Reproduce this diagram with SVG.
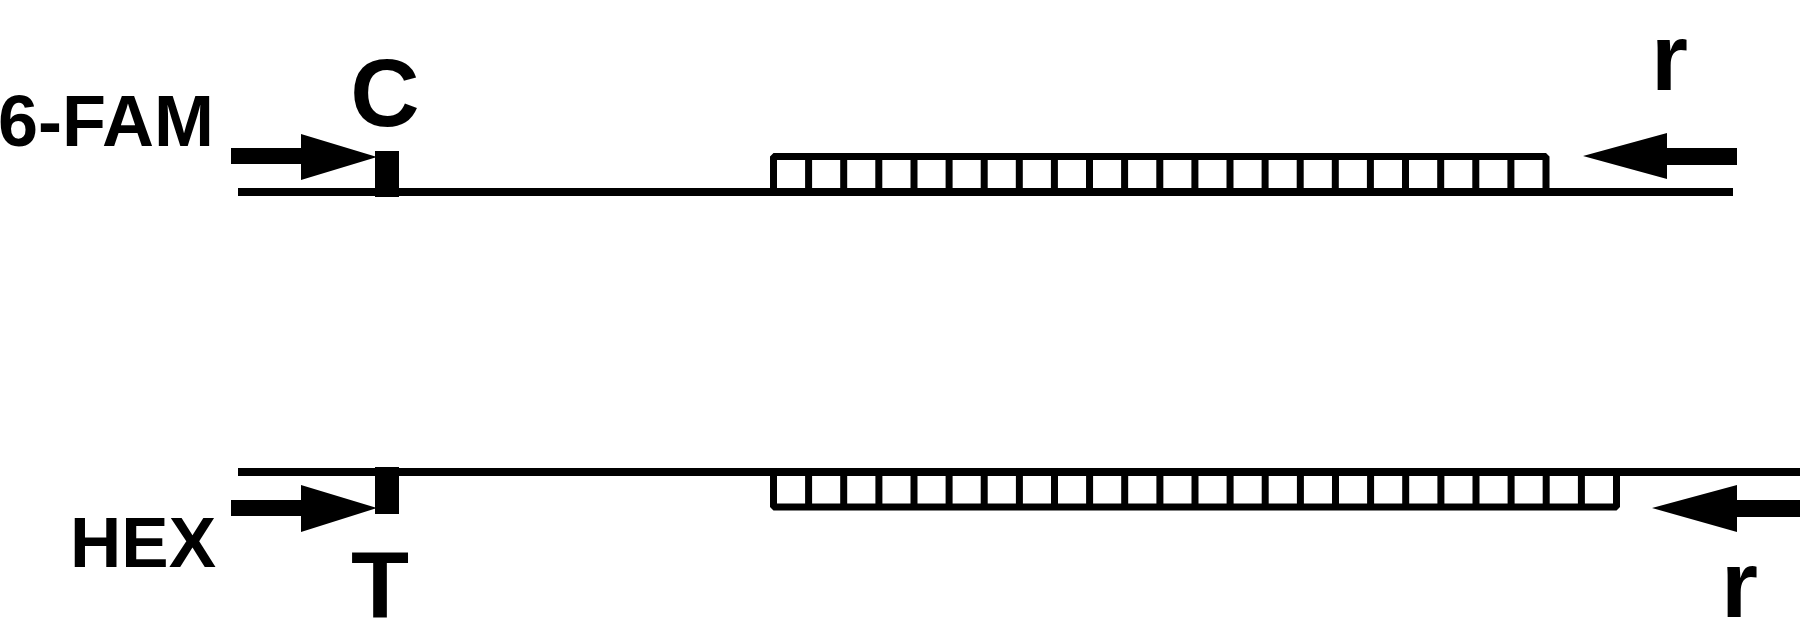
<svg xmlns="http://www.w3.org/2000/svg" width="1800" height="639" viewBox="0 0 1800 639">
<style>
.lbl{font-family:"Liberation Sans",Arial,sans-serif;font-weight:bold;fill:#000}
.strand{stroke:#000;stroke-width:8;fill:none}
.lad{stroke:#000;stroke-width:7;fill:none;stroke-linejoin:bevel}
.arrow{fill:#000}
</style>
<rect width="1800" height="639" fill="#fff"/>
<g id="top-duplex">
  <line class="strand" x1="238" y1="192" x2="1733" y2="192"/>
  <path class="lad" d="M773.5,192V156.5H1546V192"/>
  <path class="lad" d="M808.6,156.5V192M843.7,156.5V192M878.8,156.5V192M914,156.5V192M949.1,156.5V192M984.2,156.5V192M1019.3,156.5V192M1054.4,156.5V192M1089.5,156.5V192M1124.6,156.5V192M1159.8,156.5V192M1194.9,156.5V192M1230,156.5V192M1265.1,156.5V192M1300.2,156.5V192M1335.3,156.5V192M1370.4,156.5V192M1405.5,156.5V192M1440.7,156.5V192M1475.8,156.5V192M1510.9,156.5V192"/>
  <rect x="375" y="151" width="24" height="46" fill="#000"/>
</g>
<g id="bottom-duplex">
  <line class="strand" x1="238" y1="472" x2="1800" y2="472"/>
  <path class="lad" d="M773.5,472V507H1616.5V472"/>
  <path class="lad" d="M808.6,472V507M843.7,472V507M878.9,472V507M914,472V507M949.1,472V507M984.2,472V507M1019.4,472V507M1054.5,472V507M1089.6,472V507M1124.7,472V507M1159.9,472V507M1195,472V507M1230.1,472V507M1265.2,472V507M1300.4,472V507M1335.5,472V507M1370.6,472V507M1405.7,472V507M1440.9,472V507M1476,472V507M1511.1,472V507M1546.2,472V507M1581.4,472V507"/>
  <rect x="375" y="467" width="24" height="47" fill="#000"/>
</g>
<g id="connectors">
  <path class="arrow" d="M231,148H301V134L377,157L301,180V164H231Z"/>
  <path class="arrow" d="M1737,148H1667V133L1583,156L1667,179V165H1737Z"/>
  <path class="arrow" d="M231,500H301V485L377,508L301,532V516H231Z"/>
  <path class="arrow" d="M1800,500H1737V485L1652,508L1737,532V517H1800Z"/>
</g>
<g id="labels">
  <text class="lbl" x="-2" y="146" font-size="72">6-FAM</text>
  <text class="lbl" x="385" y="126" font-size="96" text-anchor="middle">C</text>
  <text class="lbl" x="1651" y="90" font-size="95">r</text>
  <text class="lbl" x="70" y="567" font-size="71">HEX</text>
  <text class="lbl" x="380" y="618" font-size="95" text-anchor="middle">T</text>
  <text class="lbl" x="1721" y="617" font-size="95">r</text>
</g>
</svg>
